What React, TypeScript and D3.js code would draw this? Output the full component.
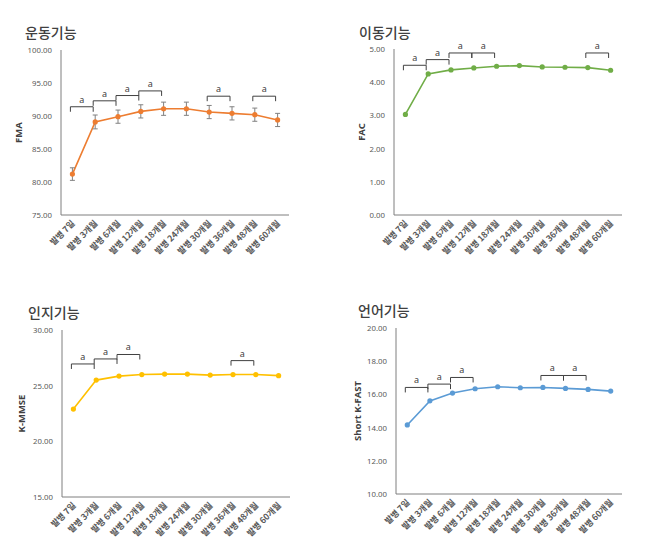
import React from "react";
import * as d3 from "d3";

const categories = ["발병 7일", "발병 3개월", "발병 6개월", "발병 12개월", "발병 18개월", "발병 24개월", "발병 30개월", "발병 36개월", "발병 48개월", "발병 60개월"];

const fmaValues = [81.2, 89.1, 89.9, 90.7, 91.1, 91.1, 90.6, 90.4, 90.2, 89.4];
const fmaErrors = [0.95, 1.05, 1.0, 1.0, 1.0, 1.0, 1.0, 1.0, 1.0, 1.0];
const facValues = [3.03, 4.25, 4.37, 4.43, 4.48, 4.5, 4.46, 4.45, 4.44, 4.36];
const mmseValues = [22.9, 25.5, 25.86, 26.0, 26.04, 26.04, 25.95, 26.0, 26.0, 25.9];
const kfastValues = [14.16, 15.61, 16.08, 16.34, 16.46, 16.4, 16.42, 16.36, 16.3, 16.2];

// brackets: [fromIndex, toIndex, level]
const fmaBrackets: [number, number, number][] = [[0, 1, 91.4], [1, 2, 92.3], [2, 3, 93.1], [3, 4, 93.8], [6, 7, 93.0], [8, 9, 93.0]];
const facBrackets: [number, number, number][] = [[0, 1, 4.51], [1, 2, 4.68], [2, 3, 4.88], [3, 4, 4.88], [8, 9, 4.88]];
const mmseBrackets: [number, number, number][] = [[0, 1, 26.95], [1, 2, 27.4], [2, 3, 27.8], [7, 8, 27.25]];
const kfastBrackets: [number, number, number][] = [[0, 1, 16.42], [1, 2, 16.62], [2, 3, 17.02], [6, 7, 17.14], [7, 8, 17.14]];

const fmaTicks = [75, 80, 85, 90, 95, 100];
const facTicks = [0, 1, 2, 3, 4, 5];
const mmseTicks = [15, 20, 25, 30];
const kfastTicks = [10, 12, 14, 16, 18, 20];

const KFONT = "'Noto Sans CJK KR', 'Noto Sans', sans-serif";
const NFONT = "'Noto Sans', 'DejaVu Sans', sans-serif";

type PanelProps = {
  title: string;
  yTitle: string;
  values: number[];
  errors?: number[];
  brackets: [number, number, number][];
  ticks: number[];
  color: string;
  x0: number; x1: number; y0: number; y1: number;
  titleX: number; titleY: number; yTitleX: number;
};

function Panel(p: PanelProps) {
  const domain = [p.ticks[0], p.ticks[p.ticks.length - 1]];
  const y = d3.scaleLinear().domain(domain).range([p.y1, p.y0]);
  const x = d3.scaleBand<string>().domain(categories).range([p.x0, p.x1]);
  const cx = (i: number) => (x(categories[i]) as number) + x.bandwidth() / 2;
  const line = d3.line<number>().x((_, i) => cx(i)).y((v) => y(v));
  return (
    <g>
      <text x={p.titleX} y={p.titleY} fontFamily={KFONT} fontSize={14} fontWeight={500} fill="#404040">{p.title}</text>
      {p.ticks.map((t) => (
        <text key={t} x={p.x0 - 9} y={y(t) + 3} textAnchor="end" fontFamily={NFONT} fontSize={7.8} fill="#595959">{t.toFixed(2)}</text>
      ))}
      <text transform={`translate(${p.yTitleX},${(p.y0 + p.y1) / 2}) rotate(-90)`} textAnchor="middle" fontFamily={NFONT} fontSize={9.5} fontWeight="bold" fill="#404040">{p.yTitle}</text>
      <line x1={p.x0} x2={p.x0} y1={p.y0} y2={p.y1} stroke="#7f7f7f" strokeWidth={1} />
      <line x1={p.x0} x2={p.x1} y1={p.y1} y2={p.y1} stroke="#7f7f7f" strokeWidth={1} />
      {categories.map((c, i) => (
        <text key={c} transform={`translate(${cx(i) + 3},${p.y1 + 9}) rotate(-45)`} textAnchor="end" fontFamily={KFONT} fontSize={8.6} fontWeight="bold" fill="#595959">{c}</text>
      ))}
      {p.brackets.map(([a, b, lv], k) => {
        const xa = cx(a) - 2, xb = cx(b) - 2, yy = y(lv);
        return (
          <g key={k}>
            <path d={`M${xa},${yy + 5}V${yy}H${xb}V${yy + 5}`} fill="none" stroke="#404040" strokeWidth={1} />
            <text x={(xa + xb) / 2} y={yy - 4} textAnchor="middle" fontFamily={NFONT} fontSize={9} fill="#404040">a</text>
          </g>
        );
      })}
      <path d={line(p.values) || ""} fill="none" stroke={p.color} strokeWidth={1.6} />
      {p.errors && p.values.map((v, i) => {
        const e = p.errors![i];
        return (
          <path key={i} d={`M${cx(i) - 2.5},${y(v + e)}H${cx(i) + 2.5}M${cx(i)},${y(v + e)}V${y(v - e)}M${cx(i) - 2.5},${y(v - e)}H${cx(i) + 2.5}`} stroke="#808080" strokeWidth={1} fill="none" />
        );
      })}
      {p.values.map((v, i) => (
        <circle key={i} cx={cx(i)} cy={y(v)} r={2.6} fill={p.color} />
      ))}
    </g>
  );
}

export default function App() {
  return (
    <svg width={653} height={560} style={{ position: "absolute", left: 0, top: 0, background: "#fff" }}>
      <rect width={653} height={560} fill="#fff" />
      <Panel title="운동기능" yTitle="FMA" values={fmaValues} errors={fmaErrors} brackets={fmaBrackets} ticks={fmaTicks} color="#ED7D31"
        x0={61} x1={289} y0={50} y1={215} titleX={25} titleY={38} yTitleX={22} />
      <Panel title="이동기능" yTitle="FAC" values={facValues} brackets={facBrackets} ticks={facTicks} color="#70AD47"
        x0={394} x1={622} y0={49} y1={215} titleX={359} titleY={38} yTitleX={365} />
      <Panel title="인지기능" yTitle="K-MMSE" values={mmseValues} brackets={mmseBrackets} ticks={mmseTicks} color="#FFC000"
        x0={62} x1={290} y0={330} y1={497} titleX={28} titleY={318} yTitleX={25} />
      <Panel title="언어기능" yTitle="Short K-FAST" values={kfastValues} brackets={kfastBrackets} ticks={kfastTicks} color="#5B9BD5"
        x0={396} x1={622} y0={328} y1={494} titleX={358} titleY={316} yTitleX={361} />
    </svg>
  );
}
